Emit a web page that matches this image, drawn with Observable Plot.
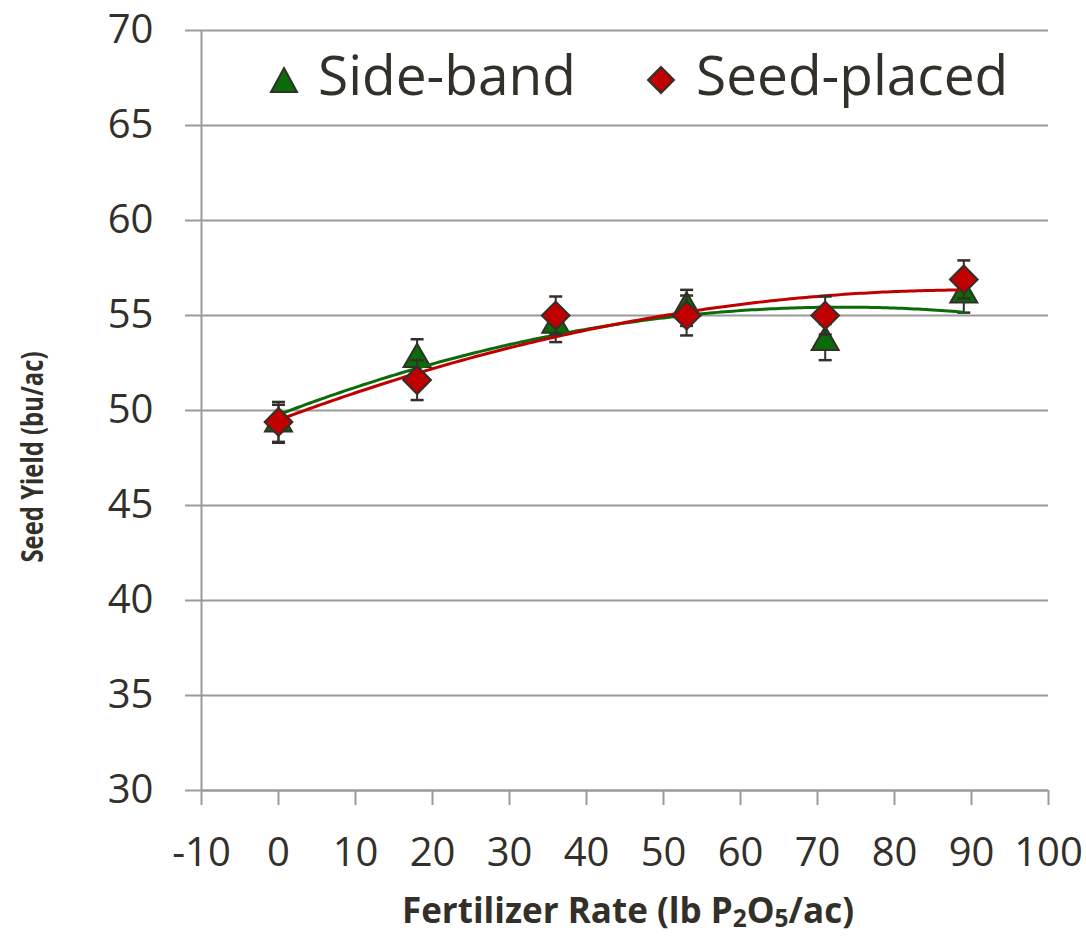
<!DOCTYPE html>
<html>
<head>
<meta charset="utf-8">
<script src="https://cdn.jsdelivr.net/npm/d3@7"></script>
<script src="https://cdn.jsdelivr.net/npm/@observablehq/plot@0.6"></script>
<style>
  body { margin: 0; background: #ffffff; }
  #wrap { position: relative; width: 1086px; height: 938px; background: #ffffff; overflow: hidden; }
  #chart { position: absolute; left: 0; top: 0; }
  .txt { position: absolute; white-space: nowrap; color: #332f29; line-height: 1; }
  .legend { font-family: "Open Sans", sans-serif; font-size: 55px; }
  .title { font-family: "Open Sans", sans-serif; font-weight: 700; }
  .title sub { font-size: 0.7em; vertical-align: -0.15em; line-height: 1; }
</style>
</head>
<body>
<div id="wrap">
  <div id="chart"></div>
</div>
<script>
// ---- data ----
const rates = [0, 18, 36, 53, 71, 89];
const sideBandYield = [49.3, 52.7, 54.5, 55.4, 53.6, 56.1];
const sideBandErr   = [1.0, 1.05, 0.9, 0.95, 0.95, 0.95];
const seedPlacedYield = [49.4, 51.6, 55.0, 55.0, 55.0, 56.9];
const seedPlacedErr   = [1.05, 1.05, 1.0, 1.05, 1.0, 1.0];
const seriesNames = ["Side-band", "Seed-placed"];
const xTicks = [-10, 0, 10, 20, 30, 40, 50, 60, 70, 80, 90, 100];
const yTicks = [30, 35, 40, 45, 50, 55, 60, 65, 70];
const xTitle = "Fertilizer Rate (lb P<sub>2</sub>O<sub>5</sub>/ac)";
const yTitle = "Seed Yield (bu/ac)";

// ---- build tables ----
const sideBand = rates.map((x, i) => ({x, y: sideBandYield[i], err: sideBandErr[i]}));
const seedPlaced = rates.map((x, i) => ({x, y: seedPlacedYield[i], err: seedPlacedErr[i]}));

// polynomial (order 2) least-squares trendline, as in the spreadsheet
function quadFit(pts) {
  let n = pts.length, sx = 0, sx2 = 0, sx3 = 0, sx4 = 0, sy = 0, sxy = 0, sx2y = 0;
  for (const p of pts) {
    const x = p.x, y = p.y;
    sx += x; sx2 += x*x; sx3 += x*x*x; sx4 += x*x*x*x;
    sy += y; sxy += x*y; sx2y += x*x*y;
  }
  const A = [[n, sx, sx2, sy], [sx, sx2, sx3, sxy], [sx2, sx3, sx4, sx2y]];
  for (let i = 0; i < 3; i++) {
    let m = i;
    for (let k = i + 1; k < 3; k++) if (Math.abs(A[k][i]) > Math.abs(A[m][i])) m = k;
    [A[i], A[m]] = [A[m], A[i]];
    for (let k = i + 1; k < 3; k++) {
      const f = A[k][i] / A[i][i];
      for (let j = i; j < 4; j++) A[k][j] -= f * A[i][j];
    }
  }
  const c = [0, 0, 0];
  for (let i = 2; i >= 0; i--) {
    let s = A[i][3];
    for (let j = i + 1; j < 3; j++) s -= A[i][j] * c[j];
    c[i] = s / A[i][i];
  }
  const [lo, hi] = d3.extent(pts, p => p.x);
  return d3.range(lo, hi + 0.001, 0.5).map(x => ({x, y: c[0] + c[1]*x + c[2]*x*x}));
}
const sideFit = quadFit(sideBand);
const seedFit = quadFit(seedPlaced);

const ink = "#332f29";
const green = "#0b6b0b";
const red = "#c00000";
const gridColor = "#9a9a9a";
const cap = {draw(ctx) { ctx.moveTo(-6.5, 0); ctx.lineTo(6.5, 0); }};

function errorMarks(data) {
  return [
    Plot.ruleX(data, {x: "x", y1: d => d.y - d.err, y2: d => d.y + d.err, stroke: ink, strokeWidth: 2}),
    Plot.dot(data, {x: "x", y: d => d.y - d.err, symbol: cap, stroke: ink, strokeWidth: 2.5, r: 5}),
    Plot.dot(data, {x: "x", y: d => d.y + d.err, symbol: cap, stroke: ink, strokeWidth: 2.5, r: 5})
  ];
}

const chart = Plot.plot({
  width: 1086,
  height: 938,
  marginLeft: 201,
  marginRight: 38,
  marginTop: 30,
  marginBottom: 148,
  style: {fontFamily: "'Open Sans', sans-serif", fontSize: "40px", color: ink, background: "#ffffff"},
  x: {domain: [-10, 100], ticks: xTicks},
  y: {domain: [30, 70], ticks: yTicks},
  marks: [
    Plot.gridY(yTicks, {stroke: gridColor, strokeOpacity: 1, strokeWidth: 2}),
    Plot.ruleX([-10], {stroke: gridColor, strokeWidth: 2}),
    Plot.ruleY([30], {stroke: gridColor, strokeWidth: 2}),
    Plot.axisY({ticks: yTicks, tickSize: 16, tickPadding: 32, stroke: gridColor, strokeWidth: 2, label: null, fill: ink, tickFormat: d => String(d)}),
    Plot.axisX({ticks: xTicks, tickSize: 15, tickPadding: 32, stroke: gridColor, strokeWidth: 2, label: null, fill: ink, tickFormat: d => String(d)}),
    ...errorMarks(sideBand),
    Plot.dot(sideBand, {x: "x", y: "y", symbol: "triangle", r: 10, fill: green, stroke: ink, strokeWidth: 2}),
    Plot.line(sideFit, {x: "x", y: "y", stroke: green, strokeWidth: 3}),
    Plot.line(seedFit, {x: "x", y: "y", stroke: red, strokeWidth: 3}),
    ...errorMarks(seedPlaced),
    Plot.dot(seedPlaced, {x: "x", y: "y", symbol: "diamond2", r: 12.5, fill: red, stroke: ink, strokeWidth: 2})
  ]
});
document.getElementById("chart").appendChild(chart);

// ---- legend and axis titles (HTML around the SVG) ----
const wrap = document.getElementById("wrap");
function addDiv(cls, html, css) {
  const d = document.createElement("div");
  d.className = "txt " + cls;
  d.innerHTML = html;
  Object.assign(d.style, css);
  wrap.appendChild(d);
  return d;
}
function addSymbol(kind, cx, cy) {
  const ns = "http://www.w3.org/2000/svg";
  const s = document.createElementNS(ns, "svg");
  s.setAttribute("width", 34); s.setAttribute("height", 34);
  s.style.position = "absolute";
  s.style.left = (cx - 17) + "px"; s.style.top = (cy - 17) + "px";
  const p = document.createElementNS(ns, "path");
  p.setAttribute("d", kind === "triangle" ? "M17,5L30,29L4,29Z" : "M17,4L30,17L17,30L4,17Z");
  p.setAttribute("fill", kind === "triangle" ? green : red);
  p.setAttribute("stroke", ink);
  p.setAttribute("stroke-width", 2);
  s.appendChild(p);
  wrap.appendChild(s);
}
addSymbol("triangle", 284, 80);
addDiv("legend", seriesNames[0], {left: "318px", top: "46px"});
addSymbol("diamond", 661, 80);
addDiv("legend", seriesNames[1], {left: "696px", top: "46px"});

addDiv("title", xTitle, {left: "628px", top: "892px", fontSize: "35px", transform: "translateX(-50%)"});
addDiv("title", yTitle, {left: "31px", top: "457px", fontSize: "31px", transform: "translate(-50%,-50%) rotate(-90deg) scaleX(0.77)"});
</script>
</body>
</html>
